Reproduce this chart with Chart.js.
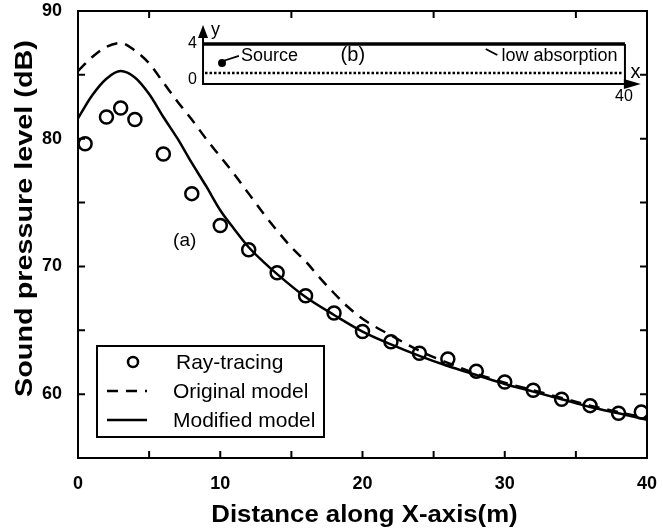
<!DOCTYPE html>
<html>
<head>
<meta charset="utf-8">
<script src="https://cdn.jsdelivr.net/npm/chart.js@4.4.0/dist/chart.umd.min.js"></script>
<style>
  html, body { margin: 0; padding: 0; background: #fff; }
  #wrap { width: 663px; height: 529px; position: relative; }
</style>
</head>
<body>
<div id="wrap"><canvas id="chart"></canvas></div>
<script>
// Sound pressure level along the X-axis: ray-tracing vs. original / modified model
const rayX = [0.5, 2, 3, 4, 6, 8, 10, 12, 14, 16, 18, 20, 22, 24, 26, 28, 30, 32, 34, 36, 38, 39.6];
const rayY = [79.6, 81.7, 82.4, 81.5, 78.8, 75.7, 73.2, 71.3, 69.5, 67.7, 66.35, 64.9, 64.1, 63.2, 62.75, 61.8, 60.95, 60.3, 59.6, 59.1, 58.5, 58.6];

const origX = [0, 1, 2, 3, 4, 5, 6, 7, 8, 9, 10, 11, 12, 13, 14, 15, 16, 17, 18, 19, 20, 22, 24, 26, 28, 30, 32, 34, 36, 38, 40];
const origY = [85.3, 86.4, 87.2, 87.5, 86.9, 85.9, 84.4, 82.9, 81.5, 80.0, 78.6, 77.2, 75.7, 74.2, 72.8, 71.5, 70.4, 69.1, 67.9, 66.8, 65.9, 64.6, 63.4, 62.45, 61.6, 60.9, 60.3, 59.7, 59.1, 58.6, 58.1];

const modX = [0, 1, 2, 3, 4, 5, 6, 7, 8, 9, 10, 11, 12, 13, 14, 16, 18, 20, 22, 24, 26, 28, 30, 32, 34, 36, 38, 40];
const modY = [81.6, 83.4, 84.7, 85.3, 84.8, 83.5, 81.7, 80.0, 78.1, 76.3, 74.4, 72.9, 71.5, 70.4, 69.4, 67.6, 66.2, 64.9, 63.9, 63.0, 62.2, 61.5, 60.8, 60.2, 59.6, 59.0, 58.5, 58.0];

const xTicksBottom = [5, 10, 15, 20, 25, 30, 35];
const xTicksTop = [5, 15, 25, 35];
const yTicksSide = [60, 65, 70, 75, 80, 85];

const FONT = '"Liberation Sans", Arial, sans-serif';
const pts = (xs, ys) => xs.map((x, i) => ({ x, y: ys[i] }));

// text drawn a bit wider than the font, like the scanned figure
function stretchText(ctx, txt, cx, cy, sx, rot) {
  ctx.save();
  ctx.translate(cx, cy);
  if (rot) ctx.rotate(rot);
  ctx.scale(sx, 1);
  ctx.fillText(txt, 0, 0);
  ctx.restore();
}

// frame, inward ticks, axis titles, "(a)" label
const frame = {
  id: 'frame',
  afterDraw(chart) {
    const { ctx, chartArea: a, scales: { x, y } } = chart;
    ctx.save();
    ctx.strokeStyle = '#000';
    ctx.lineWidth = 2;
    ctx.strokeRect(a.left, a.top, a.right - a.left, a.bottom - a.top);
    const t = 7;
    ctx.beginPath();
    xTicksBottom.forEach(v => { const p = x.getPixelForValue(v); ctx.moveTo(p, a.bottom); ctx.lineTo(p, a.bottom - t); });
    xTicksTop.forEach(v => { const p = x.getPixelForValue(v); ctx.moveTo(p, a.top); ctx.lineTo(p, a.top + t); });
    yTicksSide.forEach(v => {
      const p = y.getPixelForValue(v);
      ctx.moveTo(a.left, p); ctx.lineTo(a.left + t, p);
      ctx.moveTo(a.right, p); ctx.lineTo(a.right - t, p);
    });
    ctx.stroke();

    ctx.fillStyle = '#000';
    ctx.textAlign = 'center';
    ctx.textBaseline = 'middle';
    ctx.font = 'bold 23px ' + FONT;
    stretchText(ctx, 'Distance along X-axis(m)', (a.left + a.right) / 2 + 2, a.bottom + 58, 1.12, 0);
    ctx.font = 'bold 24px ' + FONT;
    stretchText(ctx, 'Sound pressure level (dB)', 25, (a.top + a.bottom) / 2 - 16, 1.2, -Math.PI / 2);

    ctx.font = '19px ' + FONT;
    ctx.fillText('(a)', x.getPixelForValue(7.5), y.getPixelForValue(72.0));
    ctx.restore();
  }
};

// boxed legend in the lower left corner
const boxLegend = {
  id: 'boxLegend',
  afterDraw(chart) {
    const { ctx, chartArea: a } = chart;
    const l = a.left + 19, r = a.left + 246, b = a.bottom - 21, tp = b - 91;
    ctx.save();
    ctx.strokeStyle = '#000';
    ctx.lineWidth = 2;
    ctx.strokeRect(l, tp, r - l, b - tp);
    ctx.font = '21px ' + FONT;
    ctx.fillStyle = '#000';
    ctx.textBaseline = 'middle';
    chart.data.datasets.forEach((ds, i) => {
      const cy = tp + 16 + i * 29;
      ctx.lineWidth = 2.5;
      if (ds.showLine) {
        ctx.setLineDash(ds.borderDash || []);
        ctx.beginPath();
        ctx.moveTo(l + 10, cy); ctx.lineTo(l + 50, cy);
        ctx.stroke();
        ctx.setLineDash([]);
      } else {
        ctx.beginPath();
        ctx.arc(l + 36, cy, 5, 0, Math.PI * 2);
        ctx.stroke();
      }
      ctx.fillText(ds.label, l + (ds.showLine ? 76 : 79), cy + 1);
    });
    ctx.restore();
  }
};

// inset (b): plan view of the corridor
const inset = {
  id: 'inset',
  afterDraw(chart) {
    const { ctx, scales: { x, y } } = chart;
    const L = x.getPixelForValue(8.79), R = x.getPixelForValue(38.45);
    const T = y.getPixelForValue(87.42), B = y.getPixelForValue(84.28);
    const u = v => L + (R - L) * v / 40;
    const w = v => B - (B - T) * v / 4;
    ctx.save();
    ctx.strokeStyle = '#000';
    ctx.fillStyle = '#000';
    ctx.lineWidth = 2;
    ctx.beginPath();
    ctx.moveTo(L, w(5.3)); ctx.lineTo(L, B); ctx.lineTo(u(40.3), B);
    ctx.moveTo(R, B); ctx.lineTo(R, T);
    ctx.stroke();
    ctx.lineWidth = 3.5;
    ctx.beginPath(); ctx.moveTo(L, T); ctx.lineTo(R, T); ctx.stroke();
    // arrow heads
    ctx.beginPath();
    ctx.moveTo(L, w(5.9)); ctx.lineTo(L - 5, w(4.6)); ctx.lineTo(L + 5, w(4.6)); ctx.closePath(); ctx.fill();
    ctx.beginPath();
    ctx.moveTo(u(41.5), B); ctx.lineTo(u(39.9), B - 5); ctx.lineTo(u(39.9), B + 5); ctx.closePath(); ctx.fill();
    // dotted ground line
    ctx.lineWidth = 2.5;
    ctx.setLineDash([2.5, 2]);
    ctx.beginPath(); ctx.moveTo(L + 2, w(1.1)); ctx.lineTo(R - 2, w(1.1)); ctx.stroke();
    ctx.setLineDash([]);
    // source
    ctx.beginPath(); ctx.arc(u(1.8), w(2.1), 4, 0, Math.PI * 2); ctx.fill();
    ctx.lineWidth = 1.8;
    ctx.beginPath();
    ctx.moveTo(u(1.9), w(2.3)); ctx.lineTo(u(3.4), w(2.8));
    ctx.moveTo(u(26.8), w(3.5)); ctx.lineTo(u(27.9), w(2.9));
    ctx.stroke();

    ctx.textBaseline = 'middle';
    ctx.font = '18px ' + FONT;
    ctx.textAlign = 'left';
    ctx.fillText('Source', u(3.6), w(2.8));
    ctx.fillText('low absorption', u(28.3), w(2.8));
    ctx.fillText('y', u(0.75), w(5.4));
    ctx.font = '20px ' + FONT;
    ctx.textAlign = 'center';
    ctx.fillText('(b)', u(14.2), w(2.8));
    ctx.fillText('x', u(41.0), w(1.2));
    ctx.font = '16px ' + FONT;
    ctx.fillText('4', u(-1.0), w(4.0));
    ctx.fillText('0', u(-1.0), w(0.4));
    ctx.fillText('40', u(39.9), w(-1.3));
    ctx.restore();
  }
};

new Chart(document.getElementById('chart'), {
  type: 'scatter',
  data: {
    datasets: [
      { label: 'Ray-tracing', data: pts(rayX, rayY), showLine: false, pointStyle: 'circle', pointRadius: 6.5, pointBorderWidth: 2.5, borderColor: '#000', backgroundColor: 'rgba(0,0,0,0)' },
      { label: 'Original model', data: pts(origX, origY), showLine: true, borderDash: [11, 8], borderColor: '#000', borderWidth: 2.5, pointRadius: 0, tension: 0.4, cubicInterpolationMode: 'monotone' },
      { label: 'Modified model', data: pts(modX, modY), showLine: true, borderColor: '#000', borderWidth: 2.5, pointRadius: 0, tension: 0.4, cubicInterpolationMode: 'monotone' }
    ]
  },
  options: {
    responsive: true,
    maintainAspectRatio: false,
    animation: false,
    layout: { padding: { top: 11, right: 16, left: 0, bottom: 0 } },
    plugins: { legend: { display: false }, tooltip: { enabled: false } },
    scales: {
      x: {
        type: 'linear', min: 0, max: 40,
        grid: { display: false }, border: { display: false },
        ticks: { stepSize: 5, padding: 7, color: '#000', font: { family: FONT, size: 18, weight: 'bold' }, maxRotation: 0,
          callback: v => (v % 10 === 0 ? v : '') },
        afterFit: s => { s.height = 71; s.paddingLeft = 0; s.paddingRight = 0; }
      },
      y: {
        type: 'linear', min: 55, max: 90,
        grid: { display: false }, border: { display: false },
        ticks: { stepSize: 5, padding: 8, color: '#000', font: { family: FONT, size: 18, weight: 'bold' },
          callback: v => (v % 10 === 0 ? v : '') },
        afterFit: s => { s.width = 78; s.paddingTop = 0; s.paddingBottom = 0; }
      }
    }
  },
  plugins: [frame, boxLegend, inset]
});
</script>
</body>
</html>
